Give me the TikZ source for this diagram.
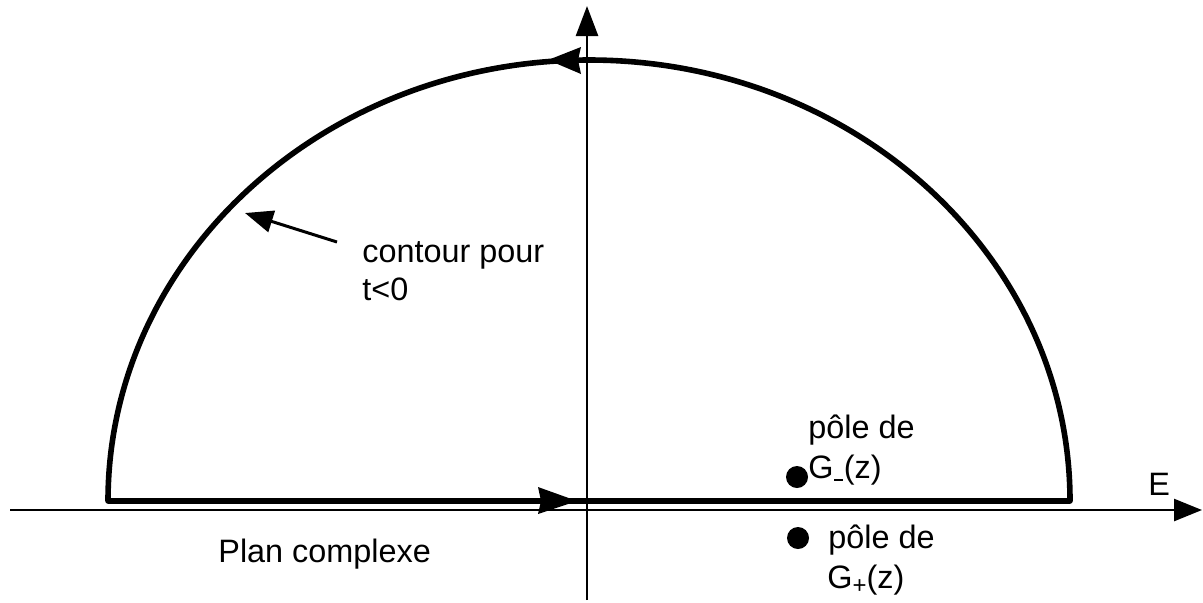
\documentclass[tikz,border=0pt]{standalone}
\usepackage{fontspec}
\setmainfont{Liberation Sans}
\usetikzlibrary{arrows.meta}
\newcommand{\mysub}[1]{\raisebox{-0.3ex}{\fontsize{12}{12}\selectfont #1}}
\newcommand{\mydash}{\kern0.3pt\raisebox{-1.6pt}{\rule{4.2pt}{1.1pt}}\kern0.6pt}
\begin{document}
\begin{tikzpicture}[x=0.5pt,y=-0.5pt,
  axis/.style={line width=1.3pt},
  contour/.style={line width=2.8pt,line join=round},
  lbl/.style={anchor=base west,inner sep=0pt,font=\fontsize{16.2}{19}\selectfont},
  dot/.style={circle,fill=black,inner sep=0pt,minimum size=11pt}]
\useasboundingbox (0,0) rectangle (1203,602);
% axes
\coordinate (xs) at (10,510);
\coordinate (xe) at (1202,510);
\coordinate (ys) at (587,600);
\coordinate (ye) at (587,6);
\draw[axis,-{Triangle[length=14pt,width=11pt]}] (xs) -- (xe);
\draw[axis,-{Triangle[length=15pt,width=11pt]}] (ys) -- (ye);
% contour
\coordinate (bl) at (108,501);
\coordinate (br) at (1070,501);
\draw[contour] (bl) -- (br) arc[start angle=0,end angle=180,x radius=240.5pt,y radius=220.5pt] -- cycle;
% arrowheads on contour
\fill (548,60) -- (581,47) -- (578,60) -- (581,74) -- cycle;
\fill (577,501) -- (538,487) -- (541,501) -- (538,514) -- cycle;
% pointer
\coordinate (pt) at (337,242);
\coordinate (ph) at (245,213);
\draw[line width=1.5pt,-{Triangle[length=14pt,width=11pt]}] (pt) -- (ph);
% labels
\node[lbl] (c1) at (362,262) {contour pour};
\node[lbl] (c2) at (362,300) {t<0};
\node[lbl] (E) at (1148,495) {E};
\node[lbl] (pc) at (218,562) {Plan complexe};
\node[dot] (d1) at (797,477) {};
\node[dot] (d2) at (798,538) {};
\node[lbl] (p1) at (808,438) {pôle de};
\node[lbl] (g1) at (808,478) {G\mydash(z)};
\node[lbl] (p2) at (828,548) {pôle de};
\node[lbl] (g2) at (827,588) {G\mysub{+}(z)};
\end{tikzpicture}
\end{document}
